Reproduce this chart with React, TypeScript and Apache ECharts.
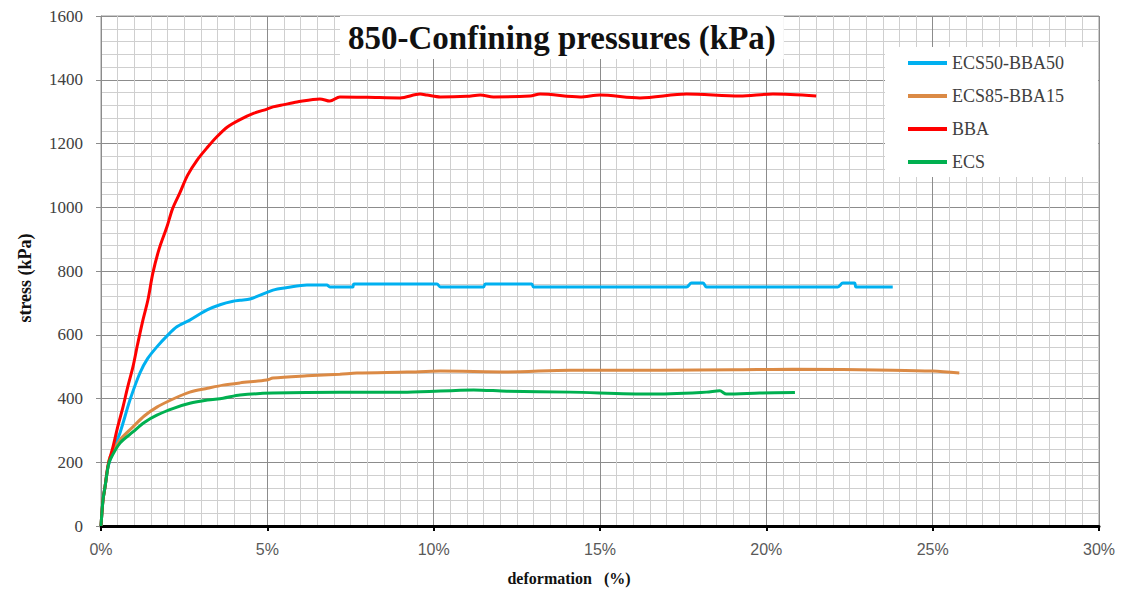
import React, { useEffect, useRef } from "react";
import * as echarts from "echarts";

const seriesNames = ["ECS50-BBA50", "ECS85-BBA15", "BBA", "ECS"];
const seriesColors = ["#00B0F0", "#DB8A45", "#FF0000", "#00B050"];

const blueStrain = [0, 0.06, 0.12, 0.21, 0.27, 0.4, 0.57, 0.87, 1.17, 1.4, 1.68, 2.0, 2.28, 2.67, 3.19, 3.6, 3.97, 4.18, 4.48, 5.17, 5.6, 6.19, 6.79, 6.88, 7.57, 7.6, 8.5, 9.2, 10.1, 10.2, 11.5, 11.55, 12.95, 13.0, 15.0, 17.6, 17.75, 18.1, 18.2, 20.0, 22.15, 22.3, 22.65, 22.7, 23.8];
const blueStress = [0, 82, 122, 185, 207, 250, 292, 395, 480, 525, 562, 598, 625, 646, 678, 695, 705, 708, 712, 740, 748, 756, 756, 750, 750, 759, 759, 759, 759, 750, 750, 759, 759, 750, 750, 750, 762, 762, 750, 750, 750, 762, 762, 750, 750];

const orangeStrain = [0, 0.06, 0.12, 0.21, 0.27, 0.57, 0.96, 1.3, 1.68, 2.2, 2.67, 3.2, 3.67, 4.18, 4.98, 5.17, 6.19, 7.18, 7.69, 9.2, 10.2, 12.2, 14.1, 16.8, 19.0, 20.8, 23.8, 25.0, 25.8];
const orangeStress = [0, 82, 122, 185, 216, 270, 311, 345, 373, 400, 420, 432, 442, 449, 458, 464, 471, 476, 480, 483, 486, 483, 489, 489, 490, 492, 489, 486, 480];

const redStrain = [0, 0.06, 0.12, 0.21, 0.36, 0.5, 0.66, 0.8, 0.96, 1.1, 1.26, 1.41, 1.56, 1.75, 1.98, 2.15, 2.37, 2.6, 2.89, 3.2, 3.49, 3.8, 4.18, 4.6, 4.99, 5.17, 5.5, 5.89, 6.58, 6.88, 7.18, 8.0, 8.99, 9.59, 9.8, 10.2, 11.0, 11.4, 11.8, 12.9, 13.2, 14.4, 15.0, 16.2, 17.6, 19.2, 20.2, 21.5];
const redStress = [0, 82, 122, 190, 248, 310, 373, 435, 499, 570, 646, 709, 794, 870, 938, 995, 1045, 1100, 1148, 1188, 1222, 1252, 1275, 1295, 1308, 1315, 1322, 1330, 1340, 1333, 1346, 1345, 1343, 1355, 1352, 1346, 1348, 1352, 1346, 1349, 1355, 1346, 1352, 1343, 1355, 1349, 1355, 1349];

const greenStrain = [0, 0.06, 0.12, 0.21, 0.27, 0.57, 0.96, 1.3, 1.68, 2.2, 2.67, 3.2, 3.67, 4.18, 5.17, 7.18, 9.2, 11.2, 12.2, 14.1, 16.5, 18.2, 18.6, 18.8, 19.8, 20.86];
const greenStress = [0, 82, 122, 185, 207, 260, 295, 325, 348, 370, 385, 395, 401, 411, 417, 420, 420, 427, 423, 420, 414, 420, 424, 414, 417, 419];

const xTickLabels = ["0%", "5%", "10%", "15%", "20%", "25%", "30%"];

const titleText = "850-Confining pressures (kPa)";
const xName = "deformation   (%)";
const yName = "stress (kPa)";

function pairs(xs: number[], ys: number[]) {
  return xs.map((x, i) => [x, ys[i]]);
}

export default function App() {
  const ref = useRef<HTMLDivElement>(null);
  useEffect(() => {
    if (!ref.current) return;
    const chart = echarts.init(ref.current, undefined, { renderer: "svg" });
    const allData = [
      pairs(blueStrain, blueStress),
      pairs(orangeStrain, orangeStress),
      pairs(redStrain, redStress),
      pairs(greenStrain, greenStress),
    ];
    const serif = "'Liberation Serif', 'Times New Roman', serif";
    chart.setOption({
      animation: false,
      backgroundColor: "#ffffff",
      title: {
        text: titleText,
        left: 340,
        top: 16,
        padding: [5, 8],
        backgroundColor: "#ffffff",
        textStyle: { fontFamily: serif, fontWeight: "bold", fontSize: 33, color: "#111" },
        z: 10,
      },
      legend: {
        orient: "vertical",
        left: 885,
        top: 47,
        padding: [7, 34, 6, 23],
        backgroundColor: "#ffffff",
        icon: "rect",
        itemWidth: 39,
        itemHeight: 4,
        itemGap: 15,
        textStyle: { fontFamily: serif, fontSize: 18, color: "#404040", lineHeight: 18 },
        data: seriesNames,
        z: 10,
      },
      grid: { left: 101, right: 23, top: 16, bottom: 64, show: true, borderColor: "#999", borderWidth: 1 },
      xAxis: {
        type: "value",
        min: 0,
        max: 30,
        interval: 5,
        axisLine: { show: true, onZero: false, lineStyle: { color: "#000", width: 3 } },
        axisTick: { show: true, length: 5, lineStyle: { color: "#000", width: 2 } },
        axisLabel: {
          margin: 15,
          fontFamily: "'Liberation Sans', Arial, sans-serif",
          fontSize: 16,
          color: "#595959",
          formatter: (v: number) => xTickLabels[Math.round(v / 5)] ?? `${v}%`,
        },
        splitLine: { show: true, lineStyle: { color: "#8c8c8c", width: 1 } },
        minorTick: { show: false, splitNumber: 10 },
        minorSplitLine: { show: true, lineStyle: { color: "#cfcfcf", width: 1 } },
      },
      yAxis: {
        type: "value",
        min: 0,
        max: 1600,
        interval: 200,
        axisLine: { show: true, lineStyle: { color: "#8c8c8c", width: 1 } },
        axisTick: { show: true, length: 5, lineStyle: { color: "#8c8c8c" } },
        axisLabel: {
          margin: 18,
          fontFamily: serif,
          fontSize: 17,
          color: "#404040",
          formatter: (v: number) => String(v),
        },
        splitLine: { show: true, lineStyle: { color: "#8c8c8c", width: 1 } },
        minorTick: { show: false, splitNumber: 5 },
        minorSplitLine: { show: true, lineStyle: { color: "#cfcfcf", width: 1 } },
      },
      graphic: [
        {
          type: "text",
          x: 569,
          y: 578,
          style: {
            text: xName,
            fontFamily: serif,
            fontWeight: "bold",
            fontSize: 16,
            fill: "#111",
            textAlign: "center",
            textVerticalAlign: "middle",
          },
        },
        {
          type: "text",
          x: 24.5,
          y: 278,
          rotation: Math.PI / 2,
          style: {
            text: yName,
            fontFamily: serif,
            fontWeight: "bold",
            fontSize: 18,
            fill: "#111",
            textAlign: "center",
            textVerticalAlign: "middle",
          },
        },
      ],
      series: seriesNames.map((name, i) => ({
        name,
        type: "line",
        data: allData[i],
        symbol: "none",
        smooth: 0.3,
        lineStyle: { color: seriesColors[i], width: 3 },
        itemStyle: { color: seriesColors[i] },
        z: 3 + i,
      })),
    });
    return () => chart.dispose();
  }, []);
  return (
    <div
      ref={ref}
      style={{ position: "fixed", left: 0, top: 0, width: 1122, height: 590, background: "#fff" }}
    />
  );
}
